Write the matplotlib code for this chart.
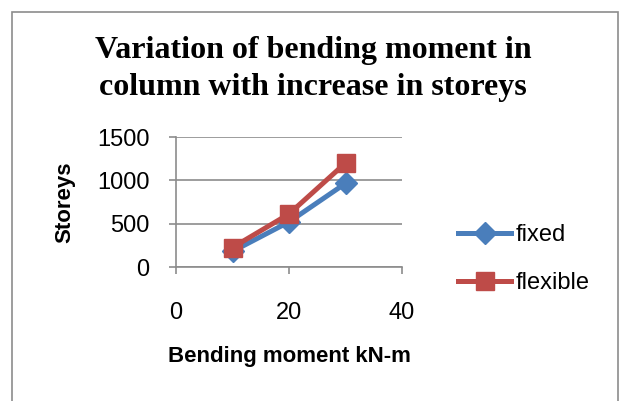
import matplotlib
matplotlib.use("Agg")
import matplotlib.pyplot as plt
from matplotlib.patches import Rectangle

# data
moment = [10, 20, 30]
fixed = [180, 520, 965]
flexible = [225, 612, 1200]
series_names = ["fixed", "flexible"]
x_ticks = [0, 20, 40]
y_ticks = [0, 500, 1000, 1500]

sans = ["Liberation Sans", "DejaVu Sans"]

fig = plt.figure(figsize=(6.2, 4.01), dpi=100)
fig.patches.append(Rectangle((12 / 620, -0.1), 606 / 620, 1.1 - 12 / 401,
                             transform=fig.transFigure, fill=False,
                             edgecolor="#8c8c8c", linewidth=1.2))

ax = fig.add_axes([176 / 620, 1 - 267 / 401, 226 / 620, 130 / 401])

ax.plot(moment, fixed, color="#4A7EBB", linewidth=3.6, marker="D",
        markersize=11, label=series_names[0], zorder=3)
ax.plot(moment, flexible, color="#BE4B48", linewidth=3.6, marker="s",
        markersize=13.5, label=series_names[1], zorder=4)

ax.set_xlim(0, 40)
ax.set_ylim(0, 1500)
ax.set_xticks(x_ticks)
ax.set_yticks(y_ticks)
ax.grid(axis="y", color="#8c8c8c", linewidth=1.2)
ax.set_axisbelow(True)
for side in ["top", "right"]:
    ax.spines[side].set_visible(False)
for side in ["left", "bottom"]:
    ax.spines[side].set_color("#8c8c8c")
    ax.spines[side].set_linewidth(1.2)
ax.tick_params(axis="both", color="#8c8c8c", length=5, width=1.2)
ax.tick_params(axis="x", pad=20)
ax.tick_params(axis="y", pad=14)
for lbl in ax.get_xticklabels() + ax.get_yticklabels():
    lbl.set_family(sans)
    lbl.set_fontsize(17)

ax.set_ylabel("Storeys", family=sans, fontsize=16, fontweight="bold",
              labelpad=16)
ax.set_xlabel("Bending moment kN-m", family=sans, fontsize=16,
              fontweight="bold", labelpad=16)

fig.text(0.505, 1 - 69 / 401,
         "Variation of bending moment in\ncolumn with increase in storeys",
         ha="center", va="center", family=["Liberation Serif", "DejaVu Serif"],
         fontsize=23, fontweight="bold", linespacing=1.35)

leg = fig.legend(loc="center left", bbox_to_anchor=(437 / 620, 1 - 259 / 401),
                 frameon=False, handlelength=2.25, handletextpad=0.2,
                 labelspacing=1.1, prop={"family": sans, "size": 17})

fig.savefig("out.png", dpi=100)
